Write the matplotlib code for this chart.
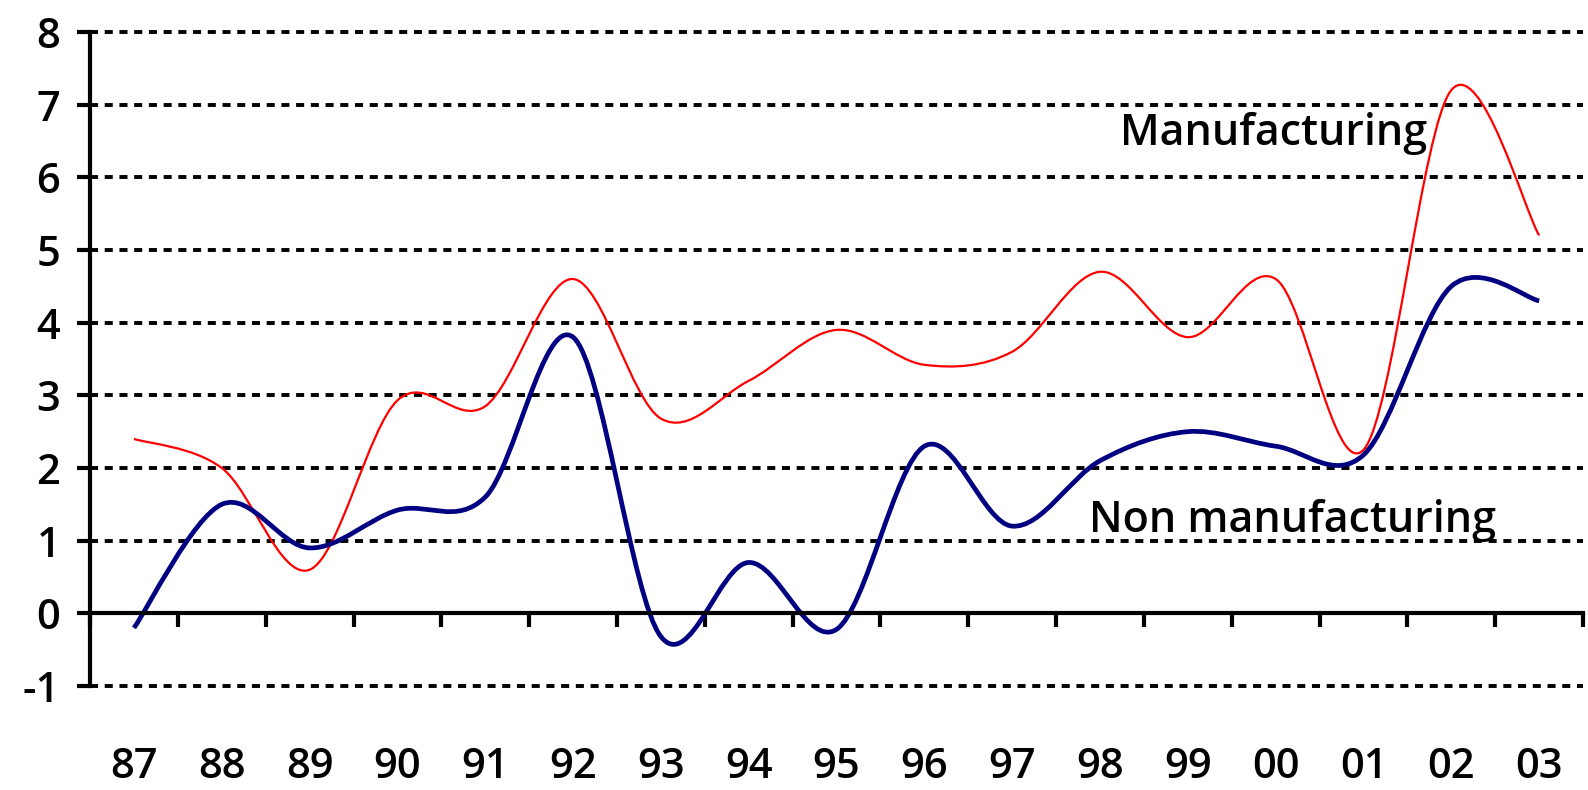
import numpy as np
import matplotlib.pyplot as plt
from matplotlib.path import Path
from matplotlib.patches import PathPatch

plt.rcParams['font.family'] = ['Open Sans', 'DejaVu Sans']
plt.rcParams['axes.unicode_minus'] = False

# Data
years = ['87', '88', '89', '90', '91', '92', '93', '94', '95',
         '96', '97', '98', '99', '00', '01', '02', '03']
manufacturing = [2.4, 2.0, 0.6, 2.93, 2.85, 4.6, 2.68, 3.2, 3.9,
                 3.42, 3.6, 4.7, 3.8, 4.6, 2.25, 7.2, 5.2]
non_manufacturing = [-0.2, 1.5, 0.9, 1.42, 1.6, 3.8, -0.32, 0.7, -0.22,
                     2.3, 1.2, 2.1, 2.5, 2.3, 2.18, 4.5, 4.3]


# Excel-style smoothed line as a bezier path through the points
def smooth_path(xs, ys):
    pts = np.column_stack([xs, ys]).astype(float)
    padded = np.vstack([pts[0], pts, pts[-1]])
    verts = [pts[0]]
    codes = [Path.MOVETO]
    for i in range(len(pts) - 1):
        p0, p1, p2, p3 = padded[i], padded[i + 1], padded[i + 2], padded[i + 3]
        verts += [p1 + (p2 - p0) / 6, p2 - (p3 - p1) / 6, p2]
        codes += [Path.CURVE4] * 3
    return Path(verts, codes)


fig = plt.figure(figsize=(15.88, 7.90), dpi=100)
ax = fig.add_axes([0.0567, 0.1316, 0.9402, 0.828])
x = np.arange(len(years))
ax.set_xlim(-0.5, len(years) - 0.5)
ax.set_ylim(-1, 8)

# dotted gridlines
lw_grid = 2.8
for y in range(-1, 9):
    if y != 0:
        ax.axhline(y, color='black', lw=lw_grid, ls=(0, (5.8 / lw_grid, 4.8 / lw_grid)),
                   dash_capstyle='butt', zorder=1, clip_on=False)

ax.add_patch(PathPatch(smooth_path(x, manufacturing), fill=False,
                       edgecolor='#ff0000', lw=1.6, zorder=3))
ax.add_patch(PathPatch(smooth_path(x, non_manufacturing), fill=False,
                       edgecolor='#000080', lw=3.4, zorder=4))

# axes styling
for s in ['top', 'right']:
    ax.spines[s].set_visible(False)
ax.spines['bottom'].set_position(('data', 0))
ax.spines['bottom'].set_linewidth(3.0)
ax.spines['left'].set_linewidth(3.0)
ax.spines['bottom'].set_zorder(5)
ax.spines['left'].set_zorder(5)

ax.set_yticks(range(-1, 9))
ax.tick_params(axis='y', length=9.5, width=3.0, direction='out', pad=12, labelsize=30)
for t in ax.get_yticklabels():
    t.set_fontweight('semibold')
ax.set_xticks(np.arange(-0.5, len(years), 1))
ax.set_xticklabels([])
ax.tick_params(axis='x', length=10, width=3.0, direction='out')

for i, lab in enumerate(years):
    ax.text(i, -0.124, lab, transform=ax.get_xaxis_transform(), ha='center',
            va='center', fontsize=30, fontweight='semibold', clip_on=False)

ax.text(11.23, 6.44, 'Manufacturing', fontsize=31, fontweight='semibold',
        va='baseline', ha='left')
ax.text(10.87, 1.12, 'Non manufacturing', fontsize=31, fontweight='semibold',
        va='baseline', ha='left')

fig.savefig('out.png', dpi=100)
